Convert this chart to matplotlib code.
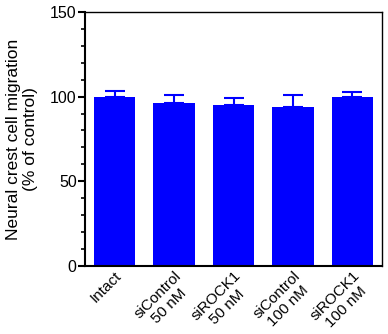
import matplotlib
matplotlib.use("Agg")
import matplotlib.pyplot as plt
from matplotlib.ticker import MultipleLocator

categories = ["Intact", "siControl\n50 nM", "siROCK1\n50 nM", "siControl\n100 nM", "siROCK1\n100 nM"]
values = [100.0, 96.5, 95.2, 94.0, 100.0]
errors = [3.4, 4.7, 3.8, 7.2, 2.6]

plt.rcParams['font.family'] = ['Liberation Sans', 'DejaVu Sans']

fig = plt.figure(figsize=(3.88, 3.34), dpi=100)
ax = fig.add_axes([0.219, 0.204, 0.766, 0.760])

x = range(len(categories))
ax.bar(x, values, width=0.7, color='#0000FF', edgecolor='#0000FF', linewidth=0, zorder=2)
ax.errorbar(x, values, yerr=[[0]*len(errors), errors], fmt='none', ecolor='#0000FF',
            elinewidth=1.5, capsize=7.5, capthick=1.5, zorder=1)

ax.set_xlim(-0.5, 4.5)
ax.set_ylim(0, 150)
ax.yaxis.set_major_locator(MultipleLocator(50))
ax.yaxis.set_minor_locator(MultipleLocator(10))
ax.tick_params(axis='y', which='major', direction='out', length=5, width=1.5, labelsize=11.5, pad=1)
ax.tick_params(axis='y', which='minor', direction='out', length=3, width=1.2)
ax.tick_params(axis='x', length=0, labelsize=11, pad=2)
ax.set_xticks(list(x))
ax.set_xticklabels(categories, rotation=45, ha='right', rotation_mode='anchor',
                   multialignment='center', linespacing=1.15)

for s in ['left', 'bottom']:
    ax.spines[s].set_linewidth(1.5)
for s in ['top', 'right']:
    ax.spines[s].set_linewidth(1.0)

ax.set_ylabel("Neural crest cell migration\n(% of control)", fontsize=12.5, labelpad=9,
              linespacing=1.15)

fig.savefig("out.png", dpi=100)
